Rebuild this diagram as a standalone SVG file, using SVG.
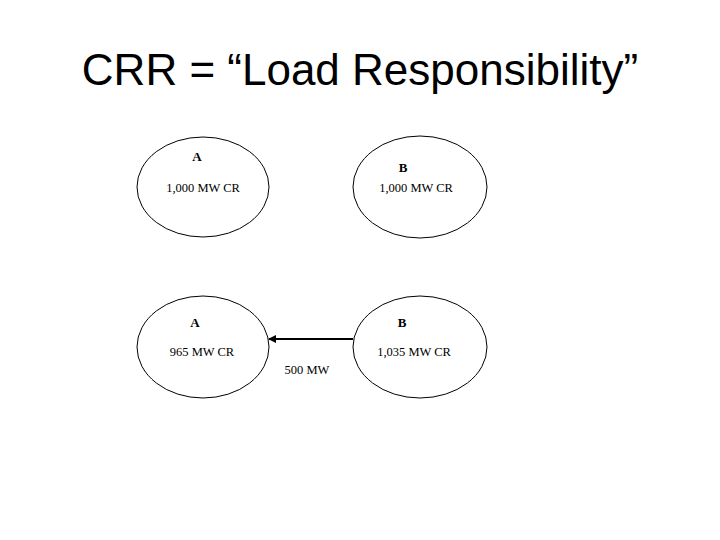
<svg xmlns="http://www.w3.org/2000/svg" width="720" height="540" viewBox="0 0 720 540">
<style>
.n{fill:none;stroke:#000;stroke-width:1}
.l{font-family:"Liberation Serif",serif;font-size:12.5px;fill:#000;text-anchor:middle}
.b{font-weight:bold;font-size:13px}
</style>
<defs><marker id="ah" markerWidth="8" markerHeight="8" refX="7" refY="4" orient="auto" markerUnits="userSpaceOnUse"><path d="M0,0L8,4L0,8z" fill="#000"/></marker></defs>
<rect width="720" height="540" fill="#fff"/>
<text x="360" y="85" font-family="Liberation Sans,sans-serif" font-size="44" text-anchor="middle">CRR = “Load Responsibility”</text>
<g id="a1"><ellipse class="n" cx="203" cy="187" rx="66" ry="50"/><text class="l b" x="197" y="161">A</text><text class="l" x="203" y="192">1,000 MW CR</text></g>
<g id="b1"><ellipse class="n" cx="420" cy="187" rx="67" ry="51"/><text class="l b" x="403" y="172">B</text><text class="l" x="416" y="192">1,000 MW CR</text></g>
<g id="a2"><ellipse class="n" cx="203" cy="347" rx="66" ry="51"/><text class="l b" x="195" y="327">A</text><text class="l" x="202" y="356">965 MW CR</text></g>
<g id="b2"><ellipse class="n" cx="420" cy="347" rx="67" ry="51"/><text class="l b" x="402" y="327">B</text><text class="l" x="414" y="356">1,035 MW CR</text></g>
<g id="connectors"><line x1="353" y1="339" x2="269" y2="339" stroke="#000" stroke-width="2" marker-end="url(#ah)"/><text class="l" x="307" y="374">500 MW</text></g>
</svg>
